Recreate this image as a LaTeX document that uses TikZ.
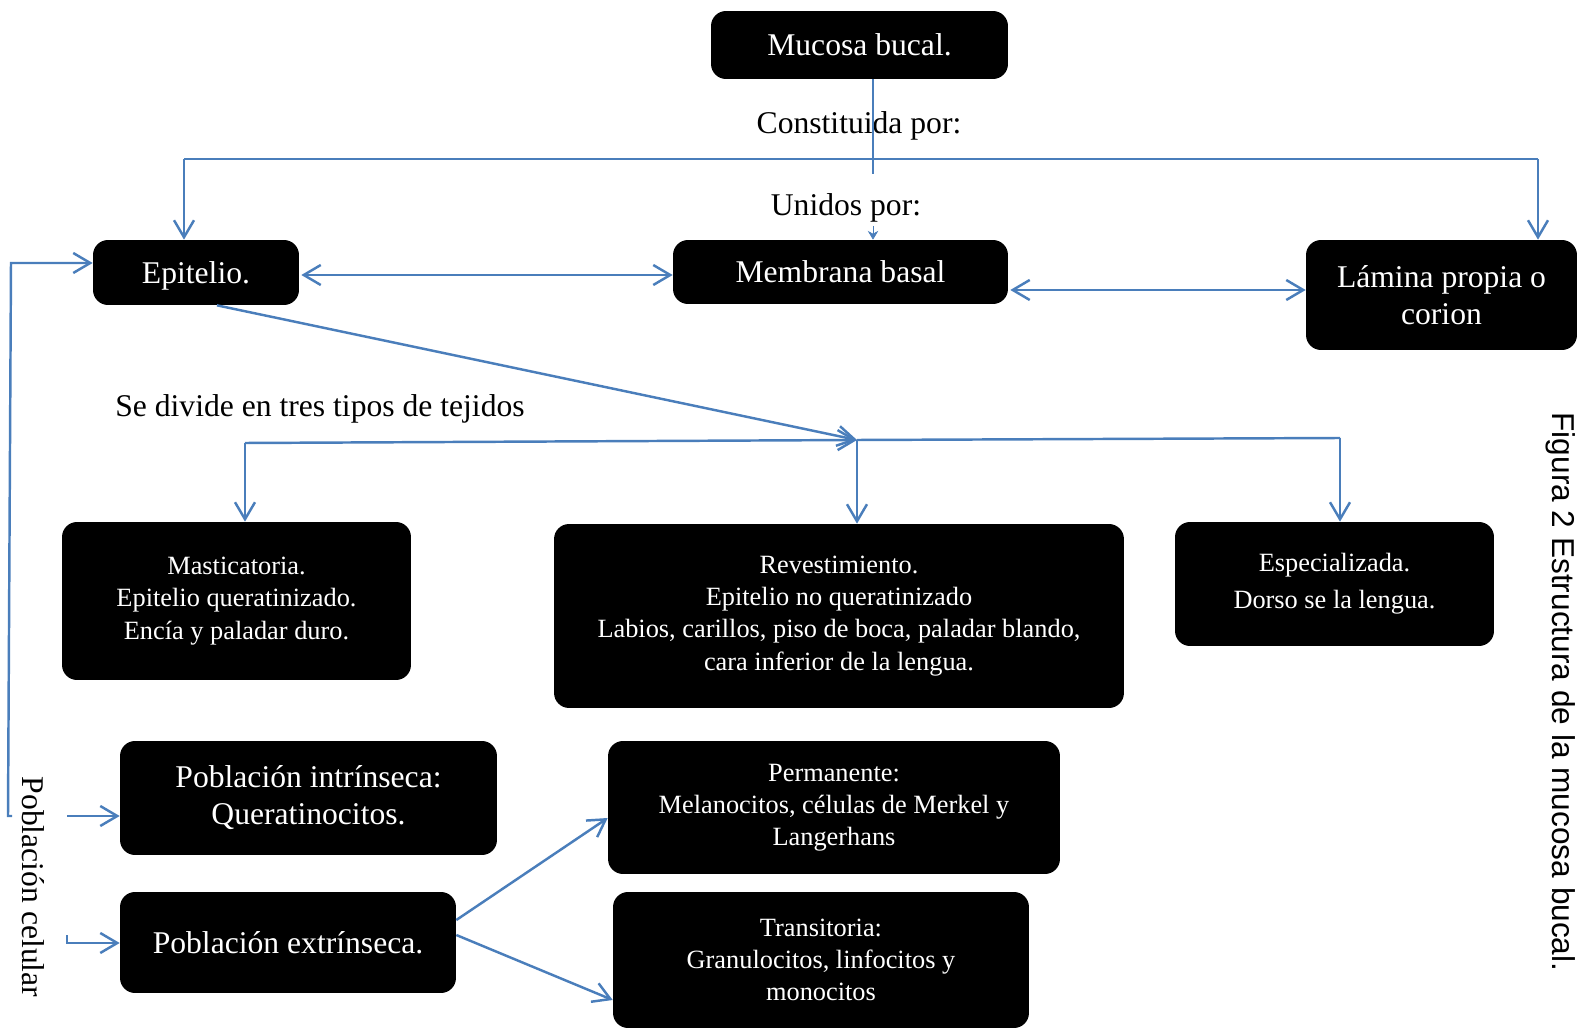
\documentclass[tikz,border=0pt]{standalone}
\usepackage{fontspec}
\setmainfont{Liberation Serif}
\newfontfamily\capfont{Liberation Sans}
\usetikzlibrary{arrows.meta}

\definecolor{azul}{RGB}{74,126,187}
\tikzset{
  caja/.style={fill=black, text=white, rounded corners=0.3cm, align=center, inner sep=0pt},
  grande/.style={font=\fontsize{18}{21}\selectfont},
  chica/.style={font=\fontsize{15}{18.3}\selectfont},
  linea/.style={draw=azul, line width=1.4pt},
  flecha/.style={linea, -{Straight Barb[length=0.34cm,width=0.4cm]}},
  doble/.style={linea, {Straight Barb[length=0.34cm,width=0.4cm]}-{Straight Barb[length=0.34cm,width=0.4cm]}},
}

\begin{document}
\begin{tikzpicture}[x=0.02cm, y=-0.02cm]
        \useasboundingbox (0,0) rectangle (1580,1030);
        % cajas
        \node[caja,grande,text depth=0pt,minimum width=5.94cm,minimum height=1.36cm] (muc) at (859.5,45) {Mucosa bucal.};
        \node[caja,grande,text depth=0pt,minimum width=4.12cm,minimum height=1.30cm] (epi) at (196,272.5) {Epitelio.};
        \node[caja,grande,text depth=0pt,minimum width=6.70cm,minimum height=1.28cm] (mem) at (840.5,272) {Membrana basal};
        \node[caja,grande,minimum width=5.42cm,minimum height=2.20cm] (lam) at (1441.5,295) {Lámina propia o\\corion};
        \node[caja,chica,minimum width=6.98cm,minimum height=3.16cm] (mas) at (236.5,601) {Masticatoria.\\Epitelio queratinizado.\\Encía y paladar duro.};
        \node[caja,chica,minimum width=11.40cm,minimum height=3.68cm] (rev) at (839,616) {Revestimiento.\\Epitelio no queratinizado\\Labios, carillos, piso de boca, paladar blando,\\cara inferior de la lengua.};
        \node[caja,chica,minimum width=6.38cm,minimum height=2.48cm] (esp) at (1334.5,584) {Especializada.\\[0.1cm]Dorso se la lengua.};
        \node[caja,grande,minimum width=7.54cm,minimum height=2.28cm] (pin) at (308.5,798) {Población intrínseca:\\Queratinocitos.};
        \node[caja,grande,text depth=0pt,minimum width=6.72cm,minimum height=2.02cm] (pex) at (288,942.5) {Población extrínseca.};
        \node[caja,chica,minimum width=9.04cm,minimum height=2.66cm] (per) at (834,807.5) {Permanente:\\Melanocitos, células de Merkel y\\Langerhans};
        \node[caja,chica,minimum width=8.32cm,minimum height=2.72cm] (tra) at (821,960) {Transitoria:\\Granulocitos, linfocitos y\\monocitos};
        % textos sueltos
        \node[grande,anchor=base] (tcon) at (859,134) {Constituida por:};
        \node[grande,anchor=base] (tuni) at (846,216) {Unidos por:};
        \node[grande,anchor=base west,inner sep=0pt] (tdiv) at (115,417) {Se divide en tres tipos de tejidos};
        \node[grande,rotate=-90] (tpob) at (33,887) {Población celular};
        \node[rotate=-90,font=\capfont\fontsize{18}{21}\selectfont] (tfig) at (1561,692) {Figura 2 Estructura de la mucosa bucal.};
        % puntos de union
        \coordinate (stem) at (873,174);
        \coordinate (ti) at (184,159);
        \coordinate (td) at (1538,159);
        \coordinate (uni) at (873,226);
        \coordinate (jdiv) at (857,440);
        \coordinate (dizq) at (245,443);
        \coordinate (dder) at (1340,438);
        \coordinate (lsup) at (11,263);
        \coordinate (linf) at (8,816);
        \coordinate (apin) at (67,816);
        \coordinate (apex) at (67,935);
        % conectores
        \draw[linea] (muc.south -| stem) -- (stem);
        \draw[linea] (ti) -- (td);
        \draw[flecha] (ti) -- (ti |- epi.north);
        \draw[flecha] (td) -- (td |- lam.north);
        \draw[azul,-{Stealth[length=5pt,width=6pt]}] (uni) -- (uni |- mem.north);
        \draw[doble] ([xshift=0.04cm,yshift=-0.05cm]epi.east) -- ([yshift=-0.05cm]epi.east -| mem.west);
        \draw[doble] ([xshift=0.04cm,yshift=-0.36cm]mem.east) -- ([yshift=-0.36cm]mem.east -| lam.west);
        \draw[flecha] ([xshift=0.42cm]epi.south) -- (jdiv);
        \draw[flecha] (dizq) -- (jdiv);
        \draw[linea] (jdiv) -- (dder);
        \draw[flecha] (dizq) -- (dizq |- mas.north);
        \draw[flecha] (jdiv) -- (jdiv |- rev.north);
        \draw[flecha] (dder) -- (dder |- esp.north);
        \draw[flecha] (12,816) -- (linf) -- (lsup) -- (lsup -| epi.west);
        \draw[flecha] (apin) -- (apin -| pin.west);
        \draw[flecha] (apex) -- (67,943) -- (pex.west |- 0,943);
        \draw[flecha] ([yshift=0.45cm]pex.east) -- ([yshift=-0.21cm]per.west);
        \draw[flecha] ([yshift=0.15cm]pex.east) -- ([yshift=-0.8cm]tra.west);
    \end{tikzpicture}
\end{document}
